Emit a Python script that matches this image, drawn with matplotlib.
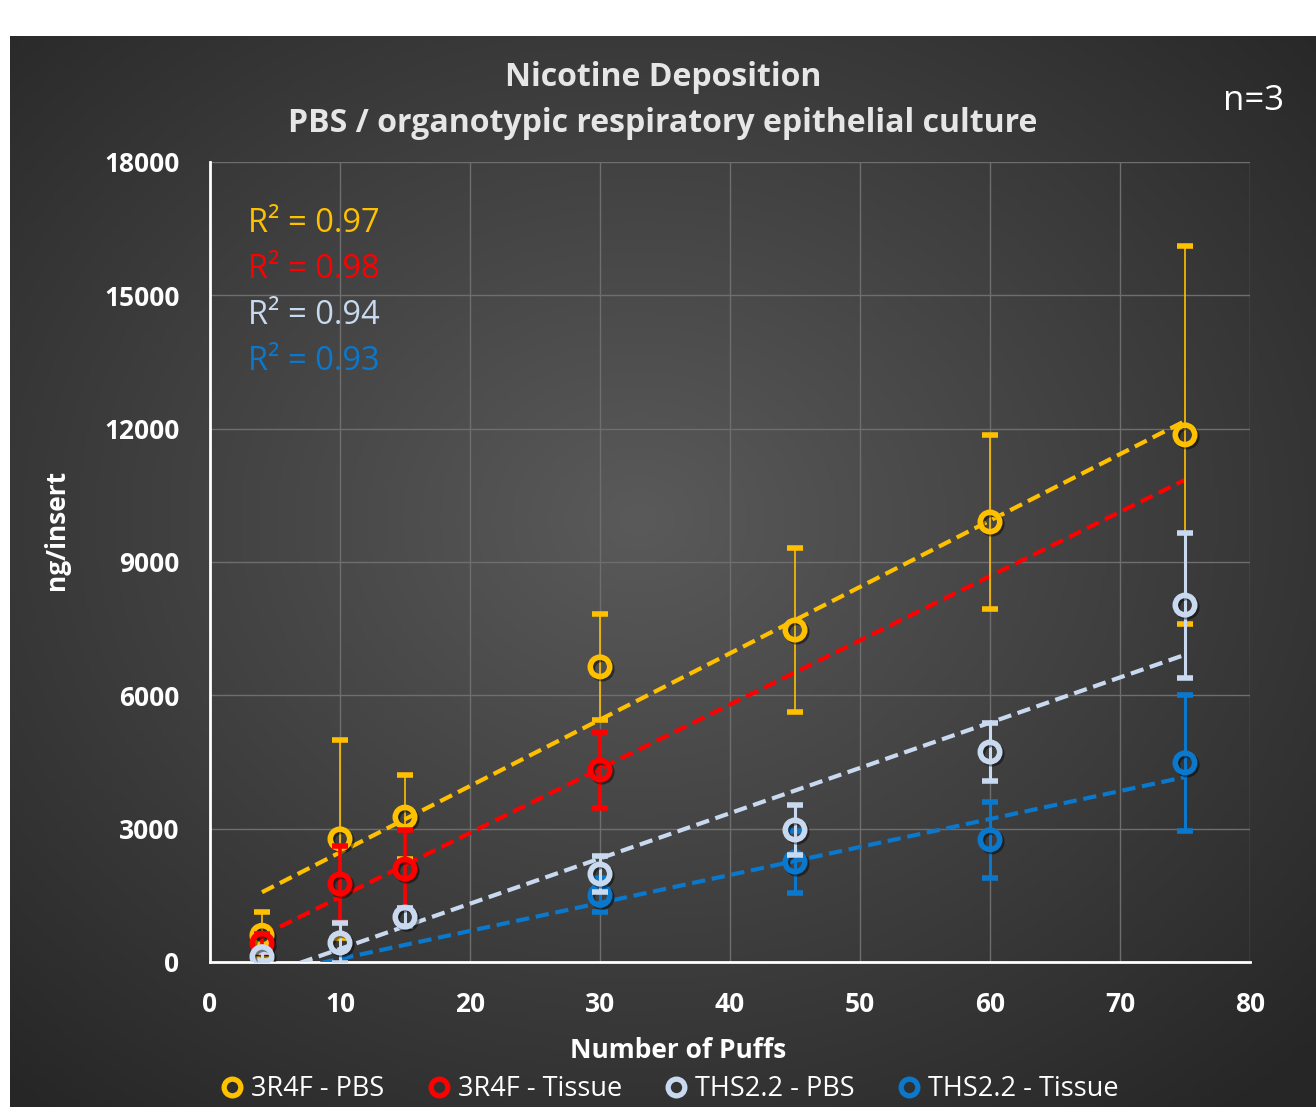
import numpy as np
import matplotlib
matplotlib.use("Agg")
import matplotlib.pyplot as plt
from matplotlib.lines import Line2D
import matplotlib.patheffects as pe

# ---------------- data ----------------
puffs = [4, 10, 15, 30, 45, 60, 75]

r4f_pbs = [600, 2770, 3260, 6640, 7470, 9900, 11860]
r4f_pbs_err = [525, 2230, 945, 1200, 1835, 1960, 4250]

r4f_tissue_x = [4, 10, 15, 30]
r4f_tissue = [420, 1755, 2090, 4320]
r4f_tissue_err = [200, 850, 870, 850]

ths_pbs = [120, 430, 1010, 1980, 2970, 4725, 8030]
ths_pbs_err = [100, 450, 200, 400, 560, 650, 1630]

ths_tissue_x = [30, 45, 60, 75]
ths_tissue = [1500, 2250, 2750, 4480]
ths_tissue_err = [380, 700, 855, 1530]

series_names = ["3R4F - PBS", "3R4F - Tissue", "THS2.2 - PBS", "THS2.2 - Tissue"]
colors = ["#FFC000", "#FF0000", "#C9DAF0", "#0A78CC"]
r2_labels = ["0.97", "0.98", "0.94", "0.93"]

xticks = [0, 10, 20, 30, 40, 50, 60, 70, 80]
yticks = [0, 3000, 6000, 9000, 12000, 15000, 18000]

# ---------------- figure ----------------
W, H = 1316, 1107
fig = plt.figure(figsize=(W / 100, H / 100), dpi=100)
fig.patch.set_facecolor("white")

# dark radial-gradient background panel
bg = fig.add_axes([10 / W, 0, 1 - 10 / W, 1 - 36 / H], zorder=0)
bg.set_axis_off()
ny, nx = 300, 360
yy, xx = np.mgrid[0:ny, 0:nx]
cx, cy = nx * 0.48, ny * 0.45
d = np.sqrt(((xx - cx) / nx) ** 2 + ((yy - cy) / ny) ** 2)
d = np.clip(d / 0.72, 0, 1)
c_in = np.array([0x5a, 0x5a, 0x5a]) / 255
c_out = np.array([0x26, 0x26, 0x26]) / 255
img = c_in[None, None, :] * (1 - d[..., None]) + c_out[None, None, :] * d[..., None]
bg.imshow(img, aspect="auto", extent=[0, 1, 0, 1], origin="upper")
bg.set_xlim(0, 1)
bg.set_ylim(0, 1)

ax = fig.add_axes([210 / W, 1 - 962 / H, (1250 - 210) / W, (962 - 162) / H], zorder=1)
ax.set_facecolor("none")

font = "Open Sans"

ax.set_xlim(0, 80)
ax.set_ylim(0, 18000)
ax.set_xticks(xticks)
ax.set_yticks(yticks)
ax.set_xticklabels([str(t) for t in xticks], fontsize=19, fontweight="bold",
                   color="white", family=font)
ax.set_yticklabels([str(t) for t in yticks], fontsize=19, fontweight="bold",
                   color="white", family=font)
ax.tick_params(axis="both", length=0)
ax.tick_params(axis="y", pad=22)
ax.tick_params(axis="x", pad=21)
ax.grid(True, color="#6e6e6e", linewidth=1.0)
ax.set_axisbelow(True)
for s in ["top", "right"]:
    ax.spines[s].set_visible(False)
for s in ["left", "bottom"]:
    ax.spines[s].set_color("white")
    ax.spines[s].set_linewidth(2)
    ax.spines[s].set_zorder(2)

xs_all = [puffs, r4f_tissue_x, puffs, ths_tissue_x]
ys_all = [r4f_pbs, r4f_tissue, ths_pbs, ths_tissue]
errs_all = [r4f_pbs_err, r4f_tissue_err, ths_pbs_err, ths_tissue_err]
err_lw = [1.2, 2.6, 2.2, 2.2]

# trend lines (least-squares fits, drawn over the full puff range)
xfit = np.array([puffs[0], puffs[-1]])
for i in range(4):
    k, b = np.polyfit(xs_all[i], ys_all[i], 1)
    ax.plot(xfit, k * xfit + b, color=colors[i], linestyle=(0, (3.2, 1.6)),
            linewidth=3.0, zorder=3)

# error bars and markers
z_order = [5, 6, 7, 4]
shadow = [pe.SimpleLineShadow(offset=(1.5, -1.5), shadow_color="black", alpha=0.45),
          pe.Normal()]
for i in range(4):
    ln, caps, bars = ax.errorbar(xs_all[i], ys_all[i], yerr=errs_all[i], fmt="o",
                                 color=colors[i], ecolor=colors[i],
                                 elinewidth=err_lw[i], capsize=5.5,
                                 capthick=err_lw[i], markersize=14,
                                 markerfacecolor="none", markeredgewidth=4.0,
                                 markeredgecolor=colors[i], zorder=z_order[i])
    ln.set_path_effects(shadow)

# R^2 annotations
for i in range(4):
    fig.text(248 / W, 1 - (223 + 46 * i) / H, "R² = " + r2_labels[i],
             color=colors[i], fontsize=23.5, family=font, va="center", ha="left")

# titles and labels
fig.text(663 / W, 1 - 78 / H, "Nicotine Deposition", color="#E6E6E6",
         fontsize=23, fontweight="bold", family=font, ha="center", va="center")
fig.text(663 / W, 1 - 124 / H, "PBS / organotypic respiratory epithelial culture",
         color="#E6E6E6", fontsize=23, fontweight="bold", family=font,
         ha="center", va="center")
fig.text(1253 / W, 1 - 101 / H, "n=3", color="white", fontsize=25,
         family=font, ha="center", va="center")
fig.text(678 / W, 1 - 1050 / H, "Number of Puffs", color="white", fontsize=19,
         fontweight="bold", family=font, ha="center", va="center")
fig.text(57 / W, 1 - 530 / H, "ng/insert", color="white", fontsize=19,
         fontweight="bold", family=font, ha="center", va="center", rotation=90)

# legend
handles = [Line2D([], [], marker="o", linestyle="none", markersize=12,
                  markerfacecolor="none", markeredgewidth=3.8,
                  markeredgecolor=c) for c in colors]
leg = fig.legend(handles, series_names, loc="center", ncol=4,
                 bbox_to_anchor=(670 / W, 1 - 1089 / H), frameon=False,
                 prop={"family": font, "size": 19.5}, handletextpad=0.3,
                 columnspacing=1.6, handlelength=0.8, borderpad=0.1)
for t in leg.get_texts():
    t.set_color("white")

fig.savefig("out.png", dpi=100)
